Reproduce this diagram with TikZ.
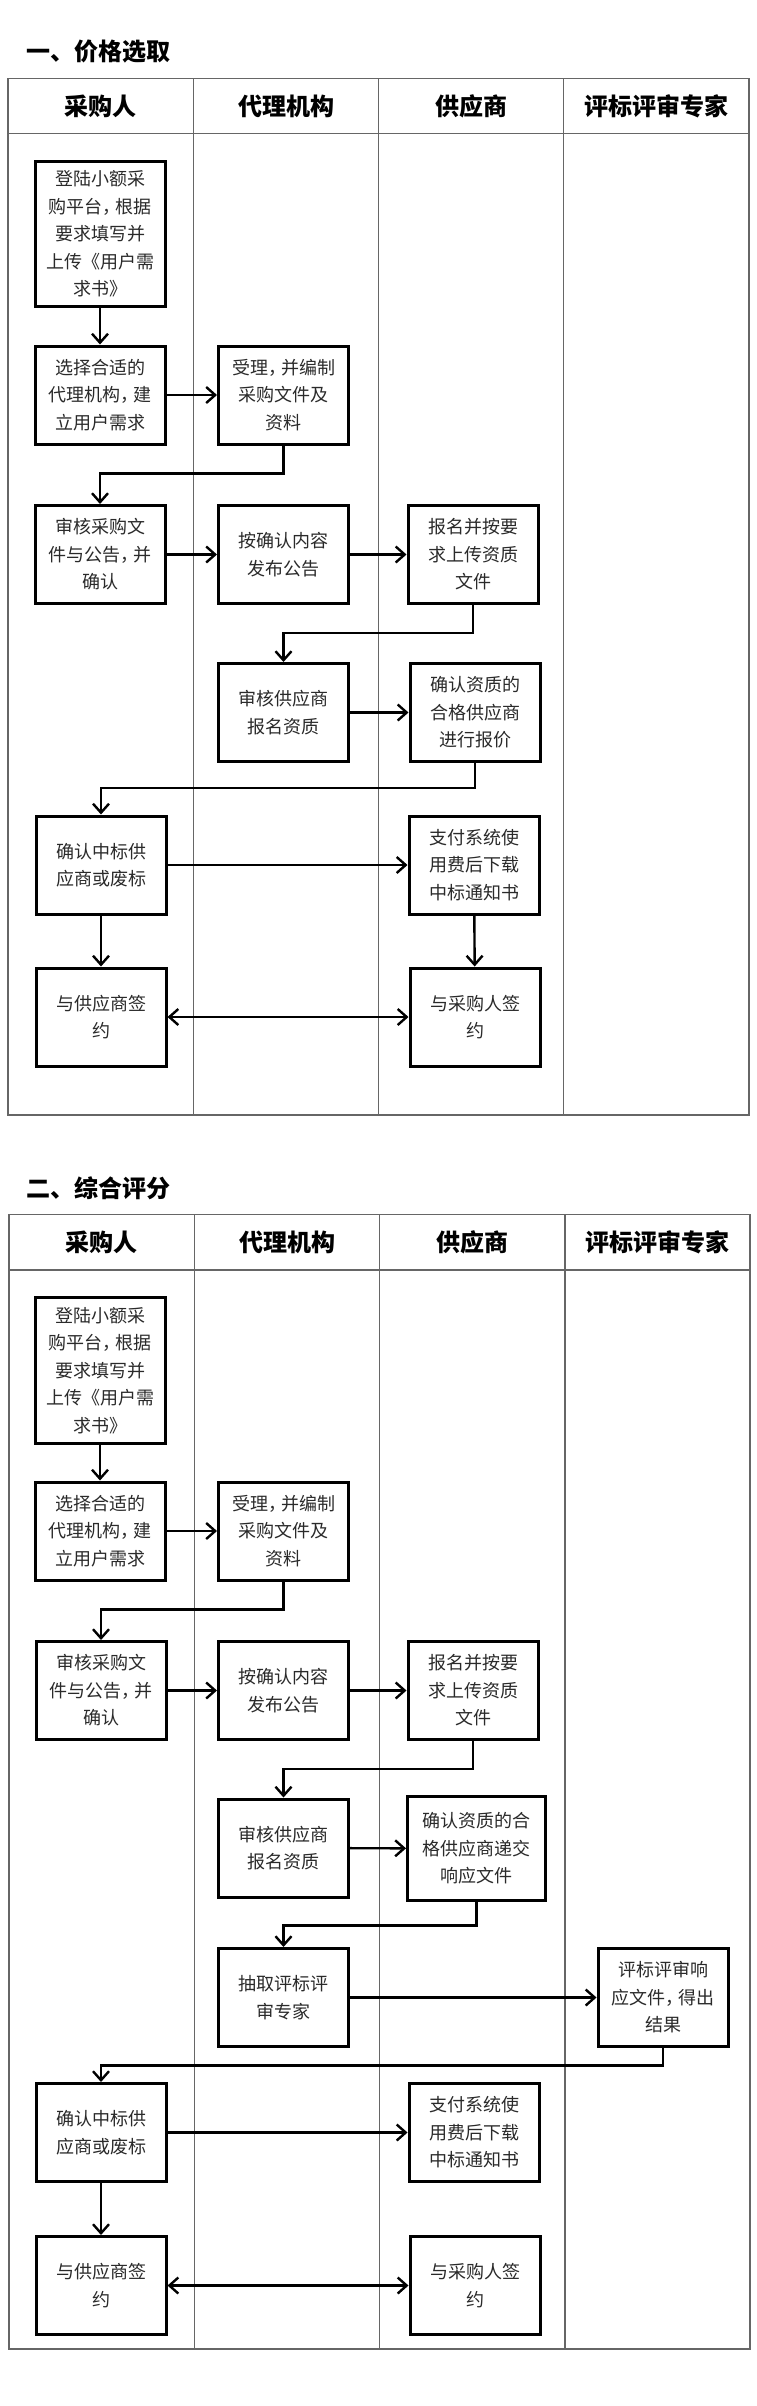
\documentclass[tikz,border=0pt]{standalone}
\usepackage{fontspec}
\newfontfamily\cjk{Noto Sans CJK SC}
\usetikzlibrary{arrows.meta}
\definecolor{lanegray}{HTML}{666666}
\definecolor{txt}{HTML}{2a2a2a}
\newcommand{\zcm}{，\kern-5pt}
\tikzset{
  stepbox/.style={draw=black, line width=3pt, align=center, inner sep=0pt,
    minimum width=130pt, minimum height=98pt, text=txt,
    font=\cjk\fontsize{18}{27.5}\selectfont},
  lanehead/.style={font=\cjk\bfseries\fontsize{24}{28}\selectfont, text=black, inner sep=0pt},
  sectitle/.style={font=\cjk\bfseries\fontsize{24}{28}\selectfont, text=black, inner sep=0pt, anchor=west},
  lane/.style={draw=lanegray, line width=1.3pt},
  arr/.style={line width=2.4pt, -{Straight Barb[length=9pt,width=16pt,line width=2.4pt]}},
  darr/.style={line width=2.4pt, {Straight Barb[length=9pt,width=16pt,line width=2.4pt]}-{Straight Barb[length=9pt,width=16pt,line width=2.4pt]}}
}
\begin{document}
\begin{tikzpicture}[x=1pt,y=-1pt]
\useasboundingbox[fill=white] (0,0) rectangle (756,2406);

% ================= Section 1 =================
\node[sectitle] (t1) at (26,52) {一、价格选取};
\draw[lane] (8,78.5) rectangle (749,1115);
\draw[lane] (8,133.5) -- (749,133.5);
\draw[lane] (193.5,78.5) -- (193.5,1115);
\draw[lane] (378.5,78.5) -- (378.5,1115);
\draw[lane] (563.5,78.5) -- (563.5,1115);
\node[lanehead] (h1a) at (100.7,106) {采购人};
\node[lanehead] (h1b) at (286,106) {代理机构};
\node[lanehead] (h1c) at (471,106) {供应商};
\node[lanehead] (h1d) at (656,106) {评标评审专家};

\node[stepbox, minimum height=145pt] (s1a1) at (100,234) {登陆小额采\\购平台\zcm 根据\\要求填写并\\上传《用户需\\求书》};
\node[stepbox] (s1a2) at (100,395) {选择合适的\\代理机构\zcm 建\\立用户需求};
\node[stepbox] (s1b2) at (283.5,395) {受理\zcm 并编制\\采购文件及\\资料};
\node[stepbox] (s1a3) at (100,554.5) {审核采购文\\件与公告\zcm 并\\确认};
\node[stepbox] (s1b3) at (283.5,554.5) {按确认内容\\发布公告};
\node[stepbox] (s1c3) at (473,554.5) {报名并按要\\求上传资质\\文件};
\node[stepbox] (s1b4) at (283.5,712.5) {审核供应商\\报名资质};
\node[stepbox] (s1c4) at (475,712.5) {确认资质的\\合格供应商\\进行报价};
\node[stepbox] (s1a5) at (101,865) {确认中标供\\应商或废标};
\node[stepbox] (s1c5) at (474,865) {支付系统使\\用费后下载\\中标通知书};
\node[stepbox] (s1a6) at (101,1017) {与供应商签\\约};
\node[stepbox] (s1c6) at (475,1017) {与采购人签\\约};

\draw[arr] (s1a1) -- (s1a2);
\draw[arr] (s1a2) -- (s1b2);
\draw[arr] (s1b2.south) -- ++(0,28) -| (s1a3.north);
\draw[arr] (s1a3) -- (s1b3);
\draw[arr] (s1b3) -- (s1c3);
\draw[arr] (s1c3.south) -- ++(0,28) -| (s1b4.north);
\draw[arr] (s1b4) -- (s1c4);
\draw[arr] (s1c4.south) -- ++(0,25) -| (s1a5.north);
\draw[arr] (s1a5) -- (s1c5);
\draw[arr] (s1a5) -- (s1a6);
\draw[arr] (s1c5) -- (s1c6);
\draw[darr] (s1a6) -- (s1c6);

% ================= Section 2 =================
\node[sectitle] (t2) at (26,1188) {二、综合评分};
\draw[lane] (9,1214.5) rectangle (750,2349);
\draw[lane] (9,1270) -- (750,1270);
\draw[lane] (194.5,1214.5) -- (194.5,2349);
\draw[lane] (379.5,1214.5) -- (379.5,2349);
\draw[lane] (565,1214.5) -- (565,2349);
\node[lanehead] (h2a) at (101.7,1242) {采购人};
\node[lanehead] (h2b) at (287,1242) {代理机构};
\node[lanehead] (h2c) at (472,1242) {供应商};
\node[lanehead] (h2d) at (657.5,1242) {评标评审专家};

\node[stepbox, minimum height=146pt] (s2a1) at (100,1370.5) {登陆小额采\\购平台\zcm 根据\\要求填写并\\上传《用户需\\求书》};
\node[stepbox] (s2a2) at (100,1531) {选择合适的\\代理机构\zcm 建\\立用户需求};
\node[stepbox] (s2b2) at (283.5,1531) {受理\zcm 并编制\\采购文件及\\资料};
\node[stepbox] (s2a3) at (101,1690.5) {审核采购文\\件与公告\zcm 并\\确认};
\node[stepbox] (s2b3) at (283.5,1690.5) {按确认内容\\发布公告};
\node[stepbox] (s2c3) at (473,1690.5) {报名并按要\\求上传资质\\文件};
\node[stepbox] (s2b4) at (283.5,1848) {审核供应商\\报名资质};
\node[stepbox, minimum width=138pt, minimum height=104pt] (s2c4) at (476.5,1848.5) {确认资质的合\\格供应商递交\\响应文件};
\node[stepbox] (s2b5) at (283.5,1997.5) {抽取评标评\\审专家};
\node[stepbox] (s2d5) at (663,1997.5) {评标评审响\\应文件\zcm 得出\\结果};
\node[stepbox] (s2a6) at (101,2132.5) {确认中标供\\应商或废标};
\node[stepbox] (s2c6) at (474,2132.5) {支付系统使\\用费后下载\\中标通知书};
\node[stepbox] (s2a7) at (101,2285.5) {与供应商签\\约};
\node[stepbox] (s2c7) at (475,2285.5) {与采购人签\\约};

\draw[arr] (s2a1) -- (s2a2);
\draw[arr] (s2a2) -- (s2b2);
\draw[arr] (s2b2.south) -- ++(0,28) -| (s2a3.north);
\draw[arr] (s2a3) -- (s2b3);
\draw[arr] (s2b3) -- (s2c3);
\draw[arr] (s2c3.south) -- ++(0,28) -| (s2b4.north);
\draw[arr] (s2b4) -- (s2c4);
\draw[arr] (s2c4.south) -- ++(0,23.5) -| (s2b5.north);
\draw[arr] (s2b5) -- (s2d5);
\draw[arr] (s2d5.south) -- ++(0,17.5) -| (s2a6.north);
\draw[arr] (s2a6) -- (s2c6);
\draw[arr] (s2a6) -- (s2a7);
\draw[darr] (s2a7) -- (s2c7);
\end{tikzpicture}
\end{document}
